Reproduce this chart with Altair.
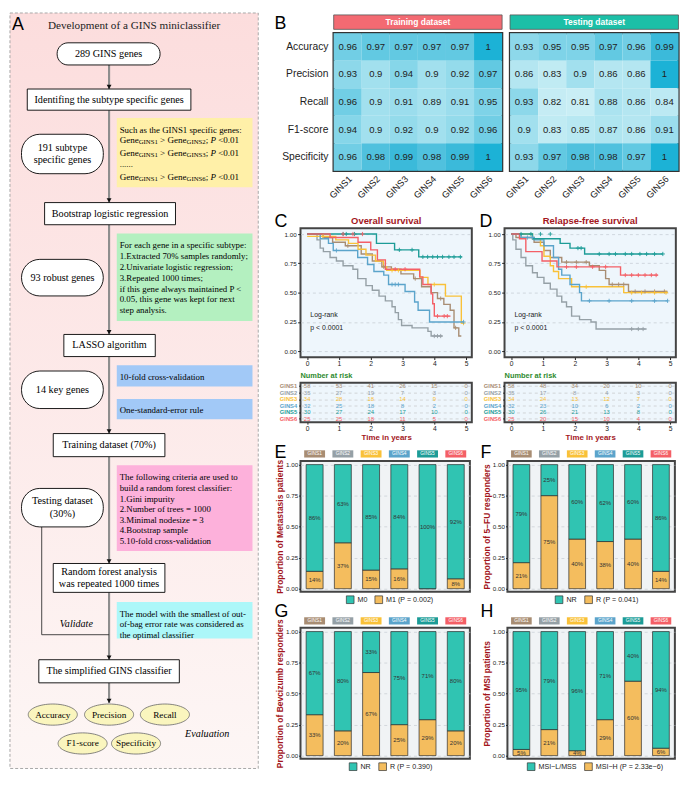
import altair as alt
import pandas as pd

S = 0.971


def P(v):
    return round(v * S, 2)


SANS = "Liberation Sans"
SERIF = "Liberation Serif"
DARKRED = "#A3161C"
GREEN = "#2E8B2E"
INK = "#222222"
FRAME = "#444444"
TEAL = "#30C4B2"
ORANGE = "#F4BD5E"

# ---------------- shared categories ----------------
subtypes = ["GINS1", "GINS2", "GINS3", "GINS4", "GINS5", "GINS6"]
subtype_colors = ["#A88D73", "#95A0A6", "#F9C138", "#5BA4CB", "#1C9C97", "#F45F66"]

# ---------------- panel A (flow chart) ----------------
flow_title = "Development of a GINS miniclassifier"
rect_lines = [["Identifing the subtype specific genes"], ["Bootstrap logistic regression"],
              ["LASSO algorithm"], ["Training dataset (70%)"],
              ["Random forest analysis", "was repeated 1000 times"], ["The simplified GINS classifier"]]
rect_x1 = [19, 37, 57, 46, 46, 31]
rect_x2 = [189, 173, 152, 162, 162, 177]
rect_y1 = [80, 198, 335, 438, 573, 673]
rect_y2 = [102, 221, 358, 462, 603, 697]
stad_lines = [["289 GINS genes"], ["191 subtype", "specific genes"], ["93 robust genes"],
              ["14 key genes"], ["Testing dataset", "(30%)"]]
stad_x1 = [50, 13, 13, 13, 13]
stad_x2 = [157, 98, 98, 98, 98]
stad_y1 = [32, 127, 257, 373, 495]
stad_y2 = [55, 168, 295, 412, 535]
note_fill = ["#FFF0A8", "#B4F0C0", "#A2C9F7", "#A2C9F7", "#FDB1DB", "#ACF7F9"]
note_y1 = [110, 230, 367, 402, 471, 613]
note_y2 = [182, 321, 389, 423, 560, 651]
note_text_y = [123, 157.5, 242, 253.5, 265, 276.5, 287.5, 298.5, 310, 379, 414,
               483, 494.5, 505.5, 516.5, 527.5, 538.5, 549.5, 625, 636, 647]
note_text = ["Such as the GINS1 specific genes:", "......",
             "For each gene in a specific subtype:", "1.Extracted 70% samples randomly;",
             "2.Univariate logistic regression;", "3.Repeated 1000 times;",
             "if this gene always maintained P <", "0.05, this gene was kept for next", "step analysis.",
             "10-fold cross-validation", "One-standard-error rule",
             "The following criteria are used to", "build a random forest classifier:", "1.Gini impurity",
             "2.Number of trees = 1000", "3.Minimal nodesize = 3", "4.Bootstrap sample",
             "5.10-fold cross-validation",
             "The model with the smallest of out-", "of-bag error rate was considered as",
             "the optimal classifier"]
gene_line_y = [133, 146.5, 171.5]
gene_line_vs = ["GINS2", "GINS3", "GINS6"]
flow_x = 104
flow_seg_y1 = [55, 102, 221, 358, 462, 603, 697]
flow_seg_y2 = [80, 198, 335, 438, 573, 673, 718]
validate_x1 = [34, 34]
validate_x2 = [34, 104]
validate_y1 = [535, 647]
validate_y2 = [647, 647]
eval_labels = ["Accuracy", "Precision", "Recall", "F1-score", "Specificity"]
eval_x = [45.5, 104, 162, 76.5, 132]
eval_y = [730, 730, 730, 760, 760]
italic_labels = ["Validate", "Evaluation"]
italic_x = [70, 206]
italic_y = [636, 750]

# ---------------- panel B ----------------
metrics = ["Accuracy", "Precision", "Recall", "F1-score", "Specificity"]
train_accuracy = [0.96, 0.97, 0.97, 0.97, 0.97, 1]
train_precision = [0.93, 0.9, 0.94, 0.9, 0.92, 0.97]
train_recall = [0.96, 0.9, 0.91, 0.89, 0.91, 0.95]
train_f1 = [0.94, 0.9, 0.92, 0.9, 0.92, 0.96]
train_specificity = [0.96, 0.98, 0.99, 0.98, 0.99, 1]
test_accuracy = [0.93, 0.95, 0.95, 0.97, 0.96, 0.99]
test_precision = [0.86, 0.83, 0.9, 0.86, 0.86, 1]
test_recall = [0.93, 0.82, 0.81, 0.88, 0.86, 0.84]
test_f1 = [0.9, 0.83, 0.85, 0.87, 0.86, 0.91]
test_specificity = [0.93, 0.97, 0.98, 0.98, 0.97, 1]
heat_domain = [0.8, 0.9, 0.95, 0.97, 1.0]
heat_range = ["#CDEFF6", "#A2E0EE", "#7ED3E8", "#62C9E2", "#1CB2D6"]

# ---------------- panels C / D (Kaplan-Meier) ----------------
os_t = {
    "GINS1": [0, 0.5, 0.8, 1.2, 1.7, 2.05, 2.35, 2.65, 2.95, 3.35, 3.6, 3.9, 4.1, 4.3, 4.5, 4.62, 4.77],
    "GINS2": [0, 0.31, 0.41, 0.51, 0.72, 0.92, 1.13, 1.44, 1.59, 1.85, 2.05, 2.26, 2.46, 2.67, 2.77, 2.87, 2.97, 3.3, 3.8, 3.9],
    "GINS3": [0, 0.9, 1.3, 1.6, 1.85, 2.15, 2.4, 2.5, 3.55, 3.8, 4.35, 4.85],
    "GINS4": [0, 0.41, 0.67, 0.82, 1.59, 1.9, 2.1, 2.41, 2.56, 3.08, 3.38, 3.49, 3.85],
    "GINS5": [0, 2.18, 2.75, 3.51],
    "GINS6": [0, 0.72, 1.6, 2.0, 2.21, 2.46, 3.54, 3.64, 3.9, 3.95, 4.0],
}
os_s = {
    "GINS1": [1, 0.97, 0.93, 0.9, 0.83, 0.77, 0.72, 0.7, 0.66, 0.62, 0.55, 0.5, 0.45, 0.4, 0.35, 0.2, 0.13],
    "GINS2": [1, 0.95, 0.88, 0.85, 0.8, 0.77, 0.73, 0.7, 0.62, 0.56, 0.52, 0.47, 0.43, 0.38, 0.33, 0.27, 0.22, 0.2, 0.17, 0.13],
    "GINS3": [0.98, 0.95, 0.92, 0.87, 0.82, 0.77, 0.72, 0.69, 0.63, 0.57, 0.47, 0.24],
    "GINS4": [1, 0.96, 0.92, 0.86, 0.8, 0.74, 0.68, 0.65, 0.57, 0.51, 0.42, 0.35, 0.25],
    "GINS5": [1, 0.92, 0.865, 0.805],
    "GINS6": [1, 0.97, 0.93, 0.865, 0.78, 0.7, 0.635, 0.57, 0.49, 0.405, 0.3],
}
os_end = {"GINS1": 4.85, "GINS2": 4.26, "GINS3": 4.92, "GINS4": 4.92, "GINS5": 4.87, "GINS6": 4.51}
os_cens_t = {
    "GINS1": [1.28, 2.41, 3.4, 4.2, 4.67],
    "GINS2": [4.0, 4.1, 4.2],
    "GINS3": [0.5, 2.67, 2.87, 4.0, 4.92],
    "GINS4": [0.92, 2.67, 2.77, 2.87, 4.92],
    "GINS5": [1.13, 1.23, 1.49, 2.9, 3.3, 3.64, 3.79, 3.95, 4.1, 4.26, 4.46, 4.62, 4.82],
    "GINS6": [1.13, 1.44, 1.74, 2.77, 3.08, 4.1, 4.31, 4.41],
}
os_cens_s = {
    "GINS1": [0.9, 0.72, 0.62, 0.45, 0.2],
    "GINS2": [0.13, 0.13, 0.13],
    "GINS3": [0.98, 0.69, 0.69, 0.57, 0.24],
    "GINS4": [0.86, 0.57, 0.57, 0.57, 0.25],
    "GINS5": [1, 1, 1, 0.865, 0.865, 0.805, 0.805, 0.805, 0.805, 0.805, 0.805, 0.805, 0.805],
    "GINS6": [1, 1, 1, 0.7, 0.7, 0.3, 0.3, 0.3],
}
rfs_t = {
    "GINS1": [0, 0.15, 0.72, 1.03, 1.23, 1.59, 2.46, 2.77, 2.97, 3.08, 3.69],
    "GINS2": [0, 0.05, 0.15, 0.31, 0.46, 0.67, 0.82, 1.03, 1.23, 1.44, 1.59, 1.74, 1.9, 2.15, 2.51, 2.67],
    "GINS3": [0, 0.67, 0.92, 1.03, 1.23, 1.33, 1.49, 1.9, 3.54],
    "GINS4": [0, 0.31, 0.72, 1.03, 1.33, 1.49, 1.59, 1.85, 2.15, 2.21],
    "GINS5": [0, 0.67, 1.54, 1.85, 2.31],
    "GINS6": [0, 0.26, 0.46, 0.97, 1.44, 3.44],
}
rfs_s = {
    "GINS1": [1, 0.97, 0.93, 0.86, 0.8, 0.76, 0.73, 0.69, 0.62, 0.57, 0.51],
    "GINS2": [1, 0.95, 0.87, 0.8, 0.73, 0.67, 0.63, 0.58, 0.53, 0.47, 0.42, 0.38, 0.3, 0.27, 0.25, 0.19],
    "GINS3": [1, 0.96, 0.9, 0.81, 0.73, 0.68, 0.62, 0.55, 0.5],
    "GINS4": [1, 0.97, 0.95, 0.9, 0.8, 0.7, 0.65, 0.57, 0.5, 0.43],
    "GINS5": [1, 0.96, 0.92, 0.88, 0.83],
    "GINS6": [1, 0.96, 0.85, 0.77, 0.72, 0.65],
}
rfs_end = {"GINS1": 4.92, "GINS2": 4.26, "GINS3": 4.92, "GINS4": 4.92, "GINS5": 4.77, "GINS6": 4.62}
rfs_cens_t = {
    "GINS1": [1.74, 2.05, 2.36, 3.18, 3.38, 3.54, 3.9, 4.21, 4.51, 4.82],
    "GINS2": [3.79, 4.0, 4.15],
    "GINS3": [2.36, 3.79, 4.1, 4.51, 4.87],
    "GINS4": [0.51, 0.67, 2.46, 3.08, 3.79, 4.51, 4.92],
    "GINS5": [0.31, 0.62, 0.92, 1.23, 2.1, 2.2, 2.77, 3.08, 3.28, 3.59, 3.79, 4.05, 4.26, 4.51, 4.77],
    "GINS6": [1.74, 2.05, 2.56, 2.97, 3.59, 3.79, 4.0, 4.21, 4.41, 4.56],
}
rfs_cens_s = {
    "GINS1": [0.76, 0.76, 0.76, 0.57, 0.57, 0.57, 0.51, 0.51, 0.51, 0.51],
    "GINS2": [0.19, 0.19, 0.19],
    "GINS3": [0.55, 0.5, 0.5, 0.5, 0.5],
    "GINS4": [0.97, 0.97, 0.43, 0.43, 0.43, 0.43, 0.43],
    "GINS5": [1, 1, 1, 1, 0.88, 0.88, 0.83, 0.83, 0.83, 0.83, 0.83, 0.83, 0.83, 0.83, 0.83],
    "GINS6": [0.72, 0.72, 0.72, 0.72, 0.65, 0.65, 0.65, 0.65, 0.65, 0.65],
}
risk_times = [0, 1, 2, 3, 4, 5]
os_risk = {"GINS1": [58, 53, 41, 26, 15, 0], "GINS2": [35, 27, 19, 7, 3, 0], "GINS3": [34, 28, 18, 14, 9, 0],
           "GINS4": [32, 25, 18, 8, 2, 0], "GINS5": [30, 27, 24, 17, 10, 0], "GINS6": [25, 25, 18, 11, 5, 0]}
rfs_risk = {"GINS1": [58, 48, 34, 20, 10, 0], "GINS2": [35, 17, 8, 4, 3, 0], "GINS3": [34, 24, 13, 12, 7, 0],
            "GINS4": [32, 23, 10, 6, 2, 0], "GINS5": [30, 26, 21, 13, 8, 0], "GINS6": [25, 20, 15, 10, 4, 0]}
logrank_text = ["Log-rank", "p < 0.0001"]
logrank_t = [0.1, 0.1]
logrank_s = [0.305, 0.2]

# ---------------- panels E-H (stacked proportions) ----------------
meta_m0 = [86, 63, 85, 84, 100, 92]
meta_m1 = [14, 37, 15, 16, 0, 8]
fu_nr = [79, 25, 60, 62, 60, 86]
fu_r = [21, 75, 40, 38, 40, 14]
bev_nr = [67, 80, 33, 75, 71, 80]
bev_r = [33, 20, 67, 25, 29, 20]
msi_lmss = [95, 79, 96, 71, 40, 94]
msi_h = [5, 21, 4, 29, 60, 6]

# ====================================================================
TIMES_W = {"G": 722, "e": 444, "n": 500, "I": 333, "N": 722, "S": 556, " ": 250, ">": 564,
           ";": 278, "P": 611, "<": 564, ".": 250}


def tw(s, size):
    return sum(TIMES_W.get(c, 500) for c in s) / 1000.0 * size


def letter_layer(ch, dx, dy):
    return alt.Chart(pd.DataFrame({"letter": [ch]})).mark_text(
        align="left", baseline="alphabetic", fontSize=P(18.5), font=SANS, color="black"
    ).encode(x=alt.value(P(dx)), y=alt.value(P(dy)), text="letter:N")


def caption_layer(txt, x, y, align, size, color):
    return alt.Chart(pd.DataFrame({"caption": [txt]})).mark_text(
        align=align, baseline="alphabetic", fontSize=P(size), font=SANS, fontWeight="bold", color=color
    ).encode(x=alt.value(P(x)), y=alt.value(P(y)), text="caption:N")


# ---------------- Panel A ----------------
xsA = alt.Scale(domain=[0, 260], nice=False, zero=False)
ysA = alt.Scale(domain=[22, 787], nice=False, zero=False, reverse=True)


def AX(f):
    return alt.X(f, type="quantitative", scale=xsA, axis=None)


def AY(f):
    return alt.Y(f, type="quantitative", scale=ysA, axis=None)


bg_df = pd.DataFrame({"x1": [1], "x2": [259], "y1": [1], "y2": [786]})
bgA = alt.Chart(bg_df).mark_rect(
    fill=alt.LinearGradient(gradient="linear", x1=0, x2=0, y1=0, y2=1,
                            stops=[alt.GradientStop(offset=0, color="#FCDDDD"),
                                   alt.GradientStop(offset=1, color="#FDF6F5")]),
    stroke="#A8A8A8", strokeDash=[3, 2], strokeWidth=1
).encode(x=AX("x1"), x2="x2", y=AY("y1"), y2="y2")

notes_df = pd.DataFrame({"x1": [112] * 6, "x2": [253] * 6, "y1": note_y1, "y2": note_y2, "fill": note_fill})
notesA = alt.Chart(notes_df).mark_rect().encode(
    x=AX("x1"), x2="x2", y=AY("y1"), y2="y2", fill=alt.Fill("fill:N", scale=None))

rect_df = pd.DataFrame({"x1": rect_x1, "x2": rect_x2, "y1": rect_y1, "y2": rect_y2})
rectsA = alt.Chart(rect_df).mark_rect(fill="white", stroke="black", strokeWidth=0.9).encode(
    x=AX("x1"), x2="x2", y=AY("y1"), y2="y2")

stad_df = pd.DataFrame({"x1": stad_x1, "x2": stad_x2, "y1": stad_y1, "y2": stad_y2})
stadSmall = alt.Chart(stad_df.iloc[:1]).mark_rect(fill="white", stroke="black", strokeWidth=0.9,
                                                   cornerRadius=P(11.3)).encode(
    x=AX("x1"), x2="x2", y=AY("y1"), y2="y2")
stadBig = alt.Chart(stad_df.iloc[1:]).mark_rect(fill="white", stroke="black", strokeWidth=0.9,
                                                 cornerRadius=P(19)).encode(
    x=AX("x1"), x2="x2", y=AY("y1"), y2="y2")

seg_df = pd.DataFrame({"x": [flow_x] * len(flow_seg_y1), "y1": flow_seg_y1, "y2": flow_seg_y2})
segA = alt.Chart(seg_df).mark_rule(color="#8E8E8E", strokeWidth=P(2.2)).encode(x=AX("x"), y=AY("y1"), y2="y2")
arrow_df = pd.DataFrame({"x": [flow_x] * len(flow_seg_y2), "y": [v - 2.3 for v in flow_seg_y2]})
arrowA = alt.Chart(arrow_df).mark_point(shape="triangle-down", filled=True, color="#111111",
                                        size=24, opacity=1).encode(x=AX("x"), y=AY("y"))
val_df = pd.DataFrame({"x1": validate_x1, "x2": validate_x2, "y1": validate_y1, "y2": validate_y2})
valA = alt.Chart(val_df).mark_rule(color="#333333", strokeWidth=0.9).encode(
    x=AX("x1"), x2="x2", y=AY("y1"), y2="y2")

ELLIPSE = ("M-1,0C-1,-0.238,-0.552,-0.431,0,-0.431C0.552,-0.431,1,-0.238,1,0"
           "C1,0.238,0.552,0.431,0,0.431C-0.552,0.431,-1,0.238,-1,0Z")
ell_df = pd.DataFrame({"x": eval_x, "y": eval_y, "label": eval_labels})
ellA = alt.Chart(ell_df).mark_point(shape=ELLIPSE, filled=True, fill="#FAF5BE", stroke="#666666",
                                    strokeWidth=0.8, size=round(P(51) ** 2), opacity=1).encode(
    x=AX("x"), y=AY("y"))
ellText = alt.Chart(ell_df).mark_text(font=SERIF, fontSize=P(9.6), color="black").encode(
    x=AX("x"), y=AY("y"), text="label:N")

node_rows = []
for lines, x1, x2, y1, y2 in zip(rect_lines + stad_lines, rect_x1 + stad_x1, rect_x2 + stad_x2,
                                 rect_y1 + stad_y1, rect_y2 + stad_y2):
    cx, cy = (x1 + x2) / 2, (y1 + y2) / 2
    if len(lines) == 1:
        node_rows.append({"x": cx, "y": cy, "text": lines[0]})
    else:
        gap = 6.6 if (y2 - y1) > 35 else 6.2
        node_rows.append({"x": cx, "y": cy - gap, "text": lines[0]})
        node_rows.append({"x": cx, "y": cy + gap, "text": lines[1]})
nodeText = alt.Chart(pd.DataFrame(node_rows)).mark_text(font=SERIF, fontSize=P(10.6), color="black").encode(
    x=AX("x"), y=AY("y"), text="text:N")

note_df = pd.DataFrame({"x": [115] * len(note_text), "y": note_text_y, "text": note_text})
noteText = alt.Chart(note_df).mark_text(font=SERIF, fontSize=P(9.2), color="black", align="left").encode(
    x=AX("x"), y=AY("y"), text="text:N")

gene_rows, gene_it_rows = [], []
for gy, vs in zip(gene_line_y, gene_line_vs):
    toks = [("Gene", 9.4, 0, 0), ("GINS1", 7.0, 2.4, 0), (" ", 9.4, 0, 0), (">", 9.4, 0, 0),
            (" ", 9.4, 0, 0), ("Gene", 9.4, 0, 0), (vs, 7.0, 2.4, 0), (";", 9.4, 0, 0),
            (" ", 9.4, 0, 0), ("P", 9.4, 0, 1), (" ", 9.4, 0, 0), ("<0.01", 9.4, 0, 0)]
    xx = 115
    for txt, fs, dy, it in toks:
        if txt.strip():
            row = {"x": xx, "y": gy + dy, "text": txt, "fs": P(fs)}
            (gene_it_rows if it else gene_rows).append(row)
        xx += tw(txt, fs)
geneText = alt.Chart(pd.DataFrame(gene_rows)).mark_text(font=SERIF, color="black", align="left").encode(
    x=AX("x"), y=AY("y"), text="text:N", size=alt.Size("fs:Q", scale=None))
geneIt = alt.Chart(pd.DataFrame(gene_it_rows)).mark_text(font=SERIF, color="black", align="left",
                                                         fontStyle="italic").encode(
    x=AX("x"), y=AY("y"), text="text:N", size=alt.Size("fs:Q", scale=None))

it_df = pd.DataFrame({"x": italic_x, "y": italic_y, "text": italic_labels})
itText = alt.Chart(it_df).mark_text(font=SERIF, fontSize=P(10.5), fontStyle="italic", color="black").encode(
    x=AX("x"), y=AY("y"), text="text:N")
title_df = pd.DataFrame({"x": [130], "y": [15], "text": [flow_title]})
titleA = alt.Chart(title_df).mark_text(font=SERIF, fontSize=P(11.6), color="#222222").encode(
    x=AX("x"), y=AY("y"), text="text:N")
letA_df = pd.DataFrame({"x": [3], "y": [18.5], "text": ["A"]})
letA = alt.Chart(letA_df).mark_text(font=SANS, fontSize=P(18.5), align="left", baseline="alphabetic",
                                    color="black").encode(x=AX("x"), y=AY("y"), text="text:N")

panelA = alt.layer(bgA, notesA, segA, valA, rectsA, stadSmall, stadBig, arrowA, ellA, ellText,
                   nodeText, noteText, geneText, geneIt, itText, titleA, letA).properties(
    width=P(260), height=P(787 - 22), view=alt.ViewBackground(stroke="transparent"))

# ---------------- Panel B ----------------
color_sub = alt.Scale(domain=subtypes, range=subtype_colors)


def heat_chart(rows_vals, strip_label, strip_fill):
    recs = []
    for m, vals in zip(metrics, rows_vals):
        for g, v in zip(subtypes, vals):
            recs.append({"metric": m, "subtype": g, "value": v, "label": f"{v:g}"})
    df = pd.DataFrame(recs)
    x = alt.X("subtype:N", sort=subtypes, title=None, scale=alt.Scale(paddingInner=0, paddingOuter=0), axis=None)
    y = alt.Y("metric:N", sort=metrics, title=None, scale=alt.Scale(paddingInner=0, paddingOuter=0), axis=None)
    cells = alt.Chart(df).mark_rect().encode(
        x=x, y=y, color=alt.Color("value:Q", scale=alt.Scale(domain=heat_domain, range=heat_range), legend=None))
    txt = alt.Chart(df).mark_text(fontSize=P(9.9), color=INK, font=SANS).encode(x=x, y=y, text="label:N")
    cols = alt.Chart(pd.DataFrame({"subtype": subtypes})).mark_text(
        angle=315, align="right", baseline="top", fontSize=P(9.5), color=INK, font=SANS).encode(
        x=x, y=alt.value(P(147)), text="subtype:N")
    sdf = pd.DataFrame({"name": [strip_label]})
    strip = alt.Chart(sdf).mark_rect(fill=strip_fill, stroke="#555555", strokeWidth=0.8).encode(
        x=alt.value(0), x2=alt.value(P(175)), y=alt.value(-P(19)), y2=alt.value(-P(4)))
    stxt = alt.Chart(sdf).mark_text(color="white", fontWeight="bold", fontSize=P(8.8), font=SANS).encode(
        x=alt.value(P(87.5)), y=alt.value(-P(11.5)), text="name:N")
    return alt.layer(cells, txt, cols, strip, stxt).properties(
        width=P(175), height=P(143), view=alt.ViewBackground(stroke="#333333", strokeWidth=2.4))


lab_df = pd.DataFrame({"metric": metrics})
lab_txt = alt.Chart(lab_df).mark_text(align="right", baseline="middle", fontSize=P(10.7), color=INK,
                                      font=SANS).encode(
    x=alt.value(P(29)),
    y=alt.Y("metric:N", sort=metrics, title=None, scale=alt.Scale(paddingInner=0, paddingOuter=0), axis=None),
    text="metric:N")
labels_B = alt.layer(lab_txt, letter_layer("B", -27, -4)).properties(
    width=P(10), height=P(143), view=alt.ViewBackground(stroke="transparent"))

heat_train = heat_chart([train_accuracy, train_precision, train_recall, train_f1, train_specificity],
                        "Training dataset", "#F36A72")
heat_test = heat_chart([test_accuracy, test_precision, test_recall, test_f1, test_specificity],
                       "Testing dataset", "#1CBFA7")
panelB = alt.hconcat(labels_B, alt.hconcat(heat_train, heat_test, spacing=P(-1.1)), spacing=P(-2.6))

# ---------------- Panels C / D ----------------
KM_X = alt.Scale(domain=[-0.21, 5.18], nice=False, zero=False)
KM_BG = "#EEF6FC"


def km_panel(st, ss, send, ct, cs, risk, title, letter, letter_dx):
    line_rows, cens_rows, risk_rows = [], [], []
    for g in subtypes:
        for i, (t, s) in enumerate(zip(st[g], ss[g])):
            line_rows.append({"group": g, "t": t, "s": s, "i": i})
        line_rows.append({"group": g, "t": send[g], "s": ss[g][-1], "i": len(st[g])})
        for t, s in zip(ct[g], cs[g]):
            cens_rows.append({"group": g, "t": t, "s": s})
        for t, n in zip(risk_times, risk[g]):
            risk_rows.append({"group": g, "t": t, "n": n})
    X = alt.X("t:Q", scale=KM_X, axis=alt.Axis(values=risk_times, format="d", title=None, grid=False,
                                                domain=False, tickSize=P(2.5), tickColor=INK,
                                                labelFontSize=P(7), labelPadding=P(1.5), labelColor=INK))
    Y = alt.Y("s:Q", scale=alt.Scale(domain=[-0.05, 1.05], nice=False, zero=False),
              axis=alt.Axis(values=[0, 0.25, 0.5, 0.75, 1], format=".2f", title=None, grid=True,
                            gridDash=[3, 3], gridColor="#C2C9D0", gridWidth=0.7, domain=False,
                            tickSize=P(3), tickColor=INK, labelFontSize=P(6.5), labelPadding=P(1.5),
                            labelColor=INK))
    C = alt.Color("group:N", scale=color_sub, legend=None)
    lines = alt.Chart(pd.DataFrame(line_rows)).mark_line(interpolate="step-after", strokeWidth=1.4).encode(
        x=X, y=Y, color=C, order="i:Q")
    cens = alt.Chart(pd.DataFrame(cens_rows)).mark_point(
        shape="M-1,0L1,0M0,-1L0,1", size=18, strokeWidth=0.9, filled=False, opacity=1).encode(x=X, y=Y, color=C)
    ann = alt.Chart(pd.DataFrame({"t": logrank_t, "s": logrank_s, "txt": logrank_text})).mark_text(
        align="left", baseline="middle", fontSize=P(7.2), color=INK, font=SANS).encode(x=X, y=Y, text="txt:N")
    km = alt.layer(lines, cens, ann, letter_layer(letter, letter_dx, -1),
                   caption_layer(title, 89, -4, "center", 9.8, DARKRED)).properties(
        width=P(178), height=P(134),
        view=alt.ViewBackground(fill=KM_BG, stroke=FRAME, strokeWidth=2))

    XR = alt.X("t:Q", scale=KM_X, axis=alt.Axis(values=risk_times, format="d", title="Time in years",
                                                 titleColor=DARKRED, titleFontWeight="bold",
                                                 titleFontSize=P(8.2), titlePadding=P(2), grid=False,
                                                 domain=False, tickSize=P(2), tickColor=INK,
                                                 labelFontSize=P(7), labelPadding=P(1), labelColor=INK))
    YR = alt.Y("group:N", sort=subtypes, scale=alt.Scale(type="point", padding=0.5),
               axis=alt.Axis(title=None, labels=False, ticks=True, tickSize=P(2), tickColor=INK,
                             domain=False, grid=True, gridDash=[3, 3], gridColor="#BDBDBD", gridWidth=0.6))
    nums = alt.Chart(pd.DataFrame(risk_rows)).mark_text(fontSize=P(6.2), font=SANS).encode(
        x=XR, y=YR, color=C, text="n:Q")
    rlab = alt.Chart(pd.DataFrame({"group": subtypes})).mark_text(
        align="right", baseline="middle", fontSize=P(6), fontWeight="bold", font=SANS).encode(
        x=alt.value(-P(3.5)), y=YR, color=C, text="group:N")
    rt = alt.layer(nums, rlab, caption_layer("Number at risk", 0, -5, "left", 7.7, GREEN)).properties(
        width=P(178), height=P(41),
        view=alt.ViewBackground(fill=KM_BG, stroke=FRAME, strokeWidth=2))
    return alt.vconcat(km, rt, spacing=P(2))


panelC = km_panel(os_t, os_s, os_end, os_cens_t, os_cens_s, os_risk, "Overall survival", "C", -27)
panelD = km_panel(rfs_t, rfs_s, rfs_end, rfs_cens_t, rfs_cens_s, rfs_risk, "Relapse-free survival", "D", -26)
rowCD = alt.hconcat(panelC, panelD, spacing=P(5))


# ---------------- Panels E-H ----------------
def bar_panel(top_vals, bottom_vals, top_name, bottom_name, ytitle, letter, letter_dx, letter_dy,
              width, legend_x):
    recs = []
    for g, tv, bv in zip(subtypes, top_vals, bottom_vals):
        recs.append({"subtype": g, "cat": bottom_name, "lo": 0.0, "hi": bv / 100, "pct": bv})
        recs.append({"subtype": g, "cat": top_name, "lo": bv / 100, "hi": (bv + tv) / 100, "pct": tv})
    df = pd.DataFrame(recs)
    df["mid"] = (df["lo"] + df["hi"]) / 2
    df["label"] = df["pct"].astype(int).astype(str) + "%"
    lab_df = df[df["pct"] > 0]
    X = alt.X("subtype:N", sort=subtypes, scale=alt.Scale(paddingInner=0, paddingOuter=0), axis=None)
    ys = alt.Scale(domain=[-0.025, 1.03], nice=False, zero=False)
    ax = alt.Axis(values=[0, 0.25, 0.5, 0.75, 1], format=".2f", title=ytitle, titleColor=DARKRED,
                  titleFontWeight="bold", titleFontSize=P(8.8), titlePadding=P(1), grid=True,
                  gridDash=[3, 3], gridColor="#C6CCD2", gridWidth=0.7, domain=False, tickSize=P(2),
                  tickColor=INK, labelFontSize=P(6.5), labelPadding=P(1), labelColor=INK)
    bars = alt.Chart(df).mark_bar(width=alt.RelativeBandSize(0.6), stroke="#2B2B2B", strokeWidth=0.7).encode(
        x=X, y=alt.Y("lo:Q", scale=ys, axis=ax), y2="hi",
        color=alt.Color("cat:N", scale=alt.Scale(domain=[top_name, bottom_name], range=[TEAL, ORANGE]),
                        legend=alt.Legend(orient="none", legendX=P(legend_x), legendY=P(139.5),
                                          direction="horizontal", title=None, symbolType="square",
                                          symbolSize=60, symbolStrokeColor="#333333", symbolStrokeWidth=0.7,
                                          labelFontSize=P(7.4), labelColor=INK, labelFont=SANS,
                                          columnPadding=P(6), labelOffset=P(3), padding=0)))
    txt = alt.Chart(lab_df).mark_text(fontSize=P(6.2), color="#333333", font=SANS).encode(
        x=X, y=alt.Y("mid:Q", scale=ys, axis=ax), text="label:N")
    chip_df = pd.DataFrame({"subtype": subtypes, "chip": subtype_colors})
    chips = alt.Chart(chip_df).mark_bar(width=alt.RelativeBandSize(0.74)).encode(
        x=X, y=alt.value(-P(11)), y2=alt.value(-P(3.5)), fill=alt.Fill("chip:N", scale=None))
    chip_txt = alt.Chart(chip_df).mark_text(color="white", fontSize=P(5), font=SANS).encode(
        x=X, y=alt.value(-P(7.2)), text="subtype:N")
    return alt.layer(bars, txt, chips, chip_txt, letter_layer(letter, letter_dx, letter_dy)).properties(
        width=P(width), height=P(136),
        view=alt.ViewBackground(fill="#F0F3F5", stroke=FRAME, strokeWidth=2))


panelE = bar_panel(meta_m0, meta_m1, "M0", "M1 (P = 0.002)", "Proportion of Metastasis patients",
                   "E", -27, -3, 176, 47)
panelF = bar_panel(fu_nr, fu_r, "NR", "R (P = 0.041)", "Proportion of 5\u2212FU responders",
                   "F", -28, -3, 174, 49)
panelG = bar_panel(bev_nr, bev_r, "NR", "R (P = 0.390)", "Proportion of Bevcizumb responders",
                   "G", -27, -11, 176, 50)
panelH = bar_panel(msi_lmss, msi_h, "MSI\u2212L/MSS", "MSI\u2212H (P = 2.33e\u22126)", "Proportion of MSI patients",
                   "H", -28, -11, 174, 20)
rowEF = alt.hconcat(panelE, panelF, spacing=P(8)).resolve_scale(color="independent")
rowGH = alt.hconcat(panelG, panelH, spacing=P(8)).resolve_scale(color="independent")

topR = alt.vconcat(panelB, rowCD, spacing=P(10)).resolve_scale(color="independent")
botR = alt.vconcat(rowEF, rowGH, spacing=P(-4.7)).resolve_scale(color="independent")
right = alt.vconcat(topR, botR, spacing=P(-0.5)).resolve_scale(color="independent")

chart = alt.hconcat(panelA, right, spacing=P(13.5)).resolve_scale(color="independent").properties(
    padding=0).configure(font=SANS).configure_view(stroke="transparent")

chart.save("out.html", embed_options={"renderer": "svg", "actions": False})
